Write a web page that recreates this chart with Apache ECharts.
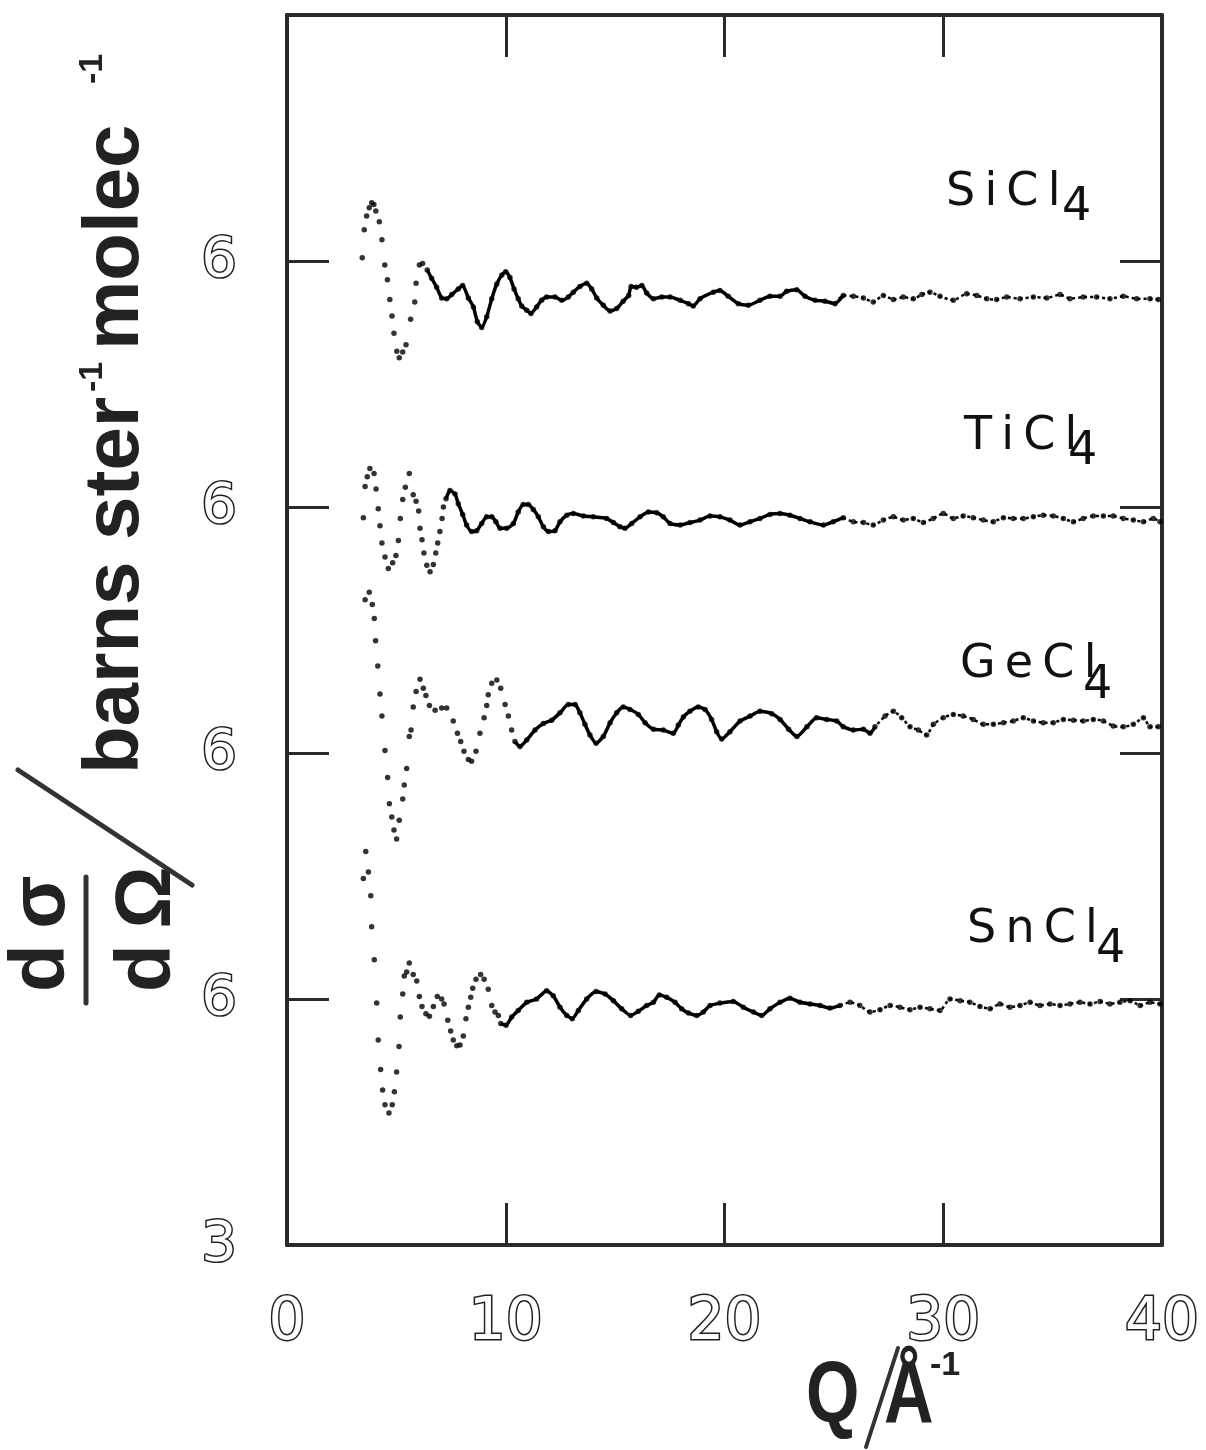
<!DOCTYPE html>
<html>
<head>
<meta charset="utf-8">
<script src="https://cdn.jsdelivr.net/npm/echarts@6/dist/echarts.min.js"></script>
<style>
html,body{margin:0;padding:0;background:#fff;}
#chart{width:1206px;height:1450px;}
</style>
</head>
<body>
<div id="chart"></div>
<script>
// Q (1/Angstrom), plotted value (each curve offset by 3 units; baselines 15, 12, 9, 6)
const xTicks = [0, 10, 20, 30, 40];
const yTickLabels = {3: '3', 6: '6', 9: '6', 12: '6', 15: '6', 18: ''};
const compounds = ['SiCl', 'TiCl', 'GeCl', 'SnCl'];

const SiCl4 = [
[3.44,15.04],[3.53,15.38],[3.64,15.55],[3.76,15.65],[3.87,15.71],[3.97,15.69],[4.06,15.61],[4.22,15.48],[4.34,15.26],[4.47,14.95],
[4.59,14.77],[4.70,14.53],[4.80,14.33],[4.89,14.12],[5.02,13.90],[5.13,13.82],[5.29,13.89],[5.44,13.98],[5.65,14.29],[5.84,14.50],
[5.90,14.73],[6.05,14.95],[6.20,14.97],[6.41,14.89],[6.61,14.79],[6.84,14.68],[7.07,14.55],[7.30,14.54],[7.53,14.59],[7.83,14.66],
[8.03,14.70],[8.29,14.55],[8.52,14.44],[8.70,14.26],[8.90,14.19],[9.13,14.32],[9.36,14.54],[9.59,14.72],[9.82,14.83],[10.00,14.87],
[10.19,14.80],[10.38,14.66],[10.57,14.54],[10.73,14.45],[10.96,14.40],[11.15,14.36],[11.41,14.44],[11.64,14.52],[11.87,14.56],[12.25,14.56],
[12.56,14.52],[12.86,14.56],[13.09,14.62],[13.39,14.69],[13.70,14.73],[13.93,14.66],[14.16,14.55],[14.46,14.46],[14.77,14.39],[15.07,14.42],
[15.37,14.51],[15.62,14.58],[15.73,14.69],[15.97,14.68],[16.22,14.70],[16.44,14.61],[16.75,14.54],[17.13,14.56],[17.51,14.56],[17.97,14.52],
[18.35,14.48],[18.57,14.45],[18.88,14.54],[19.49,14.62],[19.79,14.64],[20.17,14.57],[20.63,14.48],[21.09,14.46],[21.62,14.52],[22.08,14.57],
[22.54,14.57],[22.84,14.63],[23.30,14.65],[23.68,14.57],[24.14,14.52],[24.59,14.51],[25.05,14.48],[25.43,14.58],[25.89,14.57],[26.35,14.55],
[26.80,14.50],[27.26,14.58],[27.72,14.53],[28.17,14.56],[28.63,14.54],[29.02,14.59],[29.39,14.62],[29.85,14.57],[30.46,14.52],[31.07,14.60],
[31.53,14.58],[31.99,14.54],[32.44,14.53],[32.90,14.56],[33.51,14.54],[34.12,14.56],[34.73,14.55],[35.34,14.59],[35.79,14.54],[36.40,14.56],
[37.01,14.56],[37.62,14.54],[38.23,14.57],[38.84,14.54],[39.45,14.54],[39.83,14.53]
];

const TiCl4 = [
[3.49,11.87],[3.57,12.25],[3.67,12.37],[3.79,12.47],[3.98,12.41],[4.07,12.22],[4.17,11.98],[4.25,11.77],[4.34,11.56],[4.48,11.39],
[4.63,11.25],[4.83,11.32],[4.98,11.41],[5.09,11.59],[5.18,11.86],[5.29,12.09],[5.41,12.24],[5.59,12.41],[5.77,12.15],[5.90,12.07],
[6.02,11.95],[6.08,11.74],[6.17,11.60],[6.26,11.44],[6.39,11.29],[6.54,11.21],[6.69,11.30],[6.80,11.44],[6.89,11.56],[6.99,11.70],
[7.09,11.86],[7.15,12.00],[7.27,12.10],[7.45,12.20],[7.68,12.16],[7.83,12.04],[8.03,11.91],[8.21,11.78],[8.44,11.70],[8.67,11.71],
[8.90,11.80],[9.13,11.88],[9.36,11.88],[9.55,11.82],[9.74,11.74],[10.04,11.74],[10.35,11.80],[10.57,11.94],[10.80,12.03],[11.03,12.03],
[11.26,11.97],[11.49,11.88],[11.72,11.76],[11.95,11.70],[12.25,11.71],[12.48,11.82],[12.79,11.90],[13.09,11.92],[13.55,11.89],[14.00,11.88],
[14.61,11.86],[14.92,11.81],[15.22,11.76],[15.45,11.74],[15.76,11.80],[16.14,11.88],[16.52,11.94],[16.90,11.93],[17.20,11.88],[17.51,11.80],
[17.97,11.78],[18.42,11.81],[18.88,11.84],[19.34,11.89],[19.79,11.88],[20.25,11.84],[20.71,11.78],[21.17,11.82],[21.62,11.86],[22.08,11.91],
[22.54,11.92],[22.99,11.90],[23.45,11.86],[23.91,11.82],[24.52,11.78],[24.97,11.82],[25.43,11.87],[25.89,11.82],[26.35,11.81],[26.80,11.78],
[27.26,11.84],[27.72,11.88],[28.17,11.84],[28.63,11.86],[29.09,11.81],[29.54,11.86],[30.00,11.92],[30.46,11.86],[30.91,11.89],[31.37,11.87],
[31.83,11.84],[32.29,11.82],[32.75,11.87],[33.20,11.86],[33.66,11.86],[34.12,11.88],[34.57,11.90],[35.03,11.89],[35.49,11.86],[35.95,11.82],
[36.40,11.86],[36.86,11.89],[37.32,11.89],[37.77,11.89],[38.23,11.86],[38.69,11.84],[39.15,11.82],[39.60,11.86],[39.91,11.82]
];

const GeCl4 = [
[3.57,10.87],[3.76,10.96],[3.90,10.81],[3.99,10.64],[4.05,10.37],[4.15,10.06],[4.25,9.72],[4.34,9.45],[4.48,9.03],[4.60,8.70],
[4.68,8.38],[4.79,8.22],[4.89,8.06],[5.01,7.95],[5.13,8.18],[5.29,8.44],[5.36,8.61],[5.47,8.81],[5.59,9.20],[5.67,9.28],
[5.77,9.56],[5.90,9.75],[6.08,9.90],[6.23,9.79],[6.35,9.70],[6.51,9.58],[6.77,9.52],[7.07,9.55],[7.30,9.55],[7.60,9.39],
[7.79,9.24],[7.94,9.14],[8.09,9.02],[8.29,8.92],[8.44,8.90],[8.64,9.02],[8.82,9.24],[9.01,9.43],[9.13,9.58],[9.20,9.71],
[9.36,9.85],[9.59,9.89],[9.77,9.79],[9.97,9.59],[10.12,9.45],[10.27,9.28],[10.42,9.14],[10.65,9.08],[10.96,9.16],[11.34,9.28],
[11.72,9.36],[12.10,9.40],[12.48,9.49],[12.86,9.59],[13.17,9.59],[13.39,9.49],[13.62,9.35],[13.85,9.22],[14.13,9.12],[14.46,9.20],
[14.77,9.37],[15.07,9.49],[15.37,9.56],[15.68,9.53],[16.06,9.47],[16.37,9.37],[16.75,9.29],[17.20,9.28],[17.66,9.24],[17.89,9.34],
[18.12,9.44],[18.42,9.51],[18.80,9.56],[19.11,9.53],[19.41,9.41],[19.64,9.26],[19.87,9.17],[20.25,9.26],[20.71,9.39],[21.17,9.45],
[21.62,9.51],[22.16,9.48],[22.54,9.41],[22.93,9.29],[23.31,9.20],[23.77,9.32],[24.21,9.43],[24.67,9.41],[25.13,9.39],[25.43,9.32],
[25.89,9.28],[26.35,9.29],[26.65,9.24],[26.88,9.32],[27.34,9.45],[27.72,9.51],[28.10,9.43],[28.48,9.32],[28.86,9.28],[29.24,9.22],
[29.55,9.35],[30.00,9.43],[30.46,9.47],[30.91,9.45],[31.37,9.41],[31.83,9.35],[32.29,9.35],[32.75,9.37],[33.20,9.39],[33.66,9.43],
[34.12,9.39],[34.57,9.37],[35.03,9.37],[35.49,9.41],[35.95,9.40],[36.40,9.39],[36.86,9.41],[37.32,9.39],[37.77,9.33],[38.23,9.32],
[38.69,9.35],[39.15,9.43],[39.45,9.32],[39.83,9.32]
];

const SnCl4 = [
[3.49,7.47],[3.60,7.80],[3.72,7.55],[3.83,7.26],[3.87,6.88],[3.99,6.48],[4.10,5.95],[4.17,5.50],[4.28,5.14],[4.37,4.89],
[4.48,4.71],[4.66,4.61],[4.81,4.71],[4.91,4.87],[5.01,5.11],[5.12,5.42],[5.18,5.78],[5.29,6.06],[5.36,6.28],[5.47,6.33],
[5.59,6.44],[5.77,6.30],[5.93,6.22],[6.05,6.03],[6.17,5.91],[6.35,5.82],[6.51,5.79],[6.69,5.91],[6.87,6.03],[7.07,6.00],
[7.18,5.94],[7.35,5.74],[7.48,5.61],[7.60,5.50],[7.76,5.43],[7.91,5.44],[8.06,5.55],[8.18,5.76],[8.29,5.90],[8.40,6.02],
[8.49,6.13],[8.64,6.24],[8.85,6.30],[9.01,6.24],[9.20,6.12],[9.36,5.92],[9.51,5.84],[9.66,5.80],[9.77,5.70],[10.01,5.68],
[10.27,5.78],[10.57,5.86],[10.96,5.96],[11.41,6.00],[11.87,6.10],[12.17,6.04],[12.48,5.90],[12.79,5.80],[13.04,5.76],[13.32,5.86],
[13.70,6.00],[14.13,6.09],[14.54,6.06],[14.92,5.98],[15.30,5.88],[15.71,5.80],[16.06,5.85],[16.44,5.92],[16.75,5.96],[17.02,6.05],
[17.36,6.02],[17.74,5.96],[18.04,5.88],[18.35,5.83],[18.73,5.80],[19.03,5.84],[19.34,5.92],[19.79,5.95],[20.40,5.97],[20.86,5.90],
[21.32,5.84],[21.70,5.80],[22.08,5.88],[22.54,5.96],[22.99,6.01],[23.45,5.96],[23.91,5.94],[24.37,5.92],[24.82,5.89],[25.28,5.92],
[25.74,5.96],[26.19,5.92],[26.65,5.84],[27.11,5.87],[27.57,5.92],[28.02,5.90],[28.48,5.87],[28.94,5.90],[29.39,5.88],[29.85,5.86],
[30.31,6.00],[30.77,5.98],[31.22,5.96],[31.68,5.91],[32.14,5.88],[32.59,5.94],[33.05,5.90],[33.51,5.92],[33.97,5.96],[34.42,5.92],
[34.88,5.94],[35.34,5.92],[35.79,5.94],[36.25,5.96],[36.71,5.94],[37.17,5.97],[37.62,5.94],[38.08,5.96],[38.54,5.98],[39.00,5.92],
[39.45,5.96],[39.91,5.94]
];

// where each trace changes from sparse dots to a continuous trace, and back to a dotted tail
const traces = [
  {data: SiCl4, solidFrom: 6.3, tailFrom: 25.0},
  {data: TiCl4, solidFrom: 7.2, tailFrom: 25.0},
  {data: GeCl4, solidFrom: 10.4, tailFrom: 26.6},
  {data: SnCl4, solidFrom: 9.7, tailFrom: 25.0}
];

const ink = '#000000';
const series = [];
traces.forEach(t => {
  series.push({
    type: 'scatter', data: t.data, symbol: 'circle', symbolSize: 5.5,
    itemStyle: {color: ink}, silent: true, z: 3
  });
  series.push({
    type: 'line', data: t.data.filter(p => p[0] >= t.solidFrom && p[0] <= t.tailFrom + 0.5),
    showSymbol: false, smooth: 0.2, lineStyle: {color: ink, width: 3.5}, silent: true, z: 2
  });
  series.push({
    type: 'line', data: t.data.filter(p => p[0] >= t.tailFrom),
    showSymbol: false, smooth: 0.2, lineStyle: {color: ink, width: 2.5, type: [3, 3]}, silent: true, z: 2
  });
});

const frame = {show: true, onZero: false, lineStyle: {color: '#2a2a2a', width: 4}};
const tick = {show: true, inside: true, length: 42, lineStyle: {color: '#2a2a2a', width: 3}};
const hollow = {fontFamily: 'DejaVu Sans', color: '#ffffff', textBorderColor: '#222', textBorderWidth: 3};

const labelFont = 'normal 46px "DejaVu Sans"';
const titleFont = 'bold 78px "Liberation Sans", "DejaVu Sans", sans-serif';
const xTitleFont = 'bold 88px "Liberation Sans", "DejaVu Sans", sans-serif';
const supFont = 'bold 34px "Liberation Sans", "DejaVu Sans", sans-serif';
const names = [
  {x: 946, y: 193, sx: 1062, sy: 208},
  {x: 964, y: 437, sx: 1068, sy: 452},
  {x: 960, y: 665, sx: 1083, sy: 686},
  {x: 967, y: 930, sx: 1096, sy: 950}
];
const graphic = [];
function ptext(text, x, y, font, fill) {
  return {type: 'text', x: x, y: y, silent: true,
    style: {text: text, font: font, fill: fill, align: 'left', verticalAlign: 'middle', textAlign: 'left', textVerticalAlign: 'middle'}};
}
names.forEach((n, i) => {
  graphic.push(ptext(compounds[i].split('').join('\u2009'), n.x, n.y, labelFont, '#111'));
  graphic.push(ptext('4', n.sx, n.sy, labelFont, '#111'));
});
function rtext(text, x, y, font) {
  const e = ptext(text, x, y, font, '#222');
  e.rotation = Math.PI / 2;
  return e;
}
graphic.push(rtext('d\u2009σ', 42, 992, titleFont));
graphic.push(rtext('d\u2009Ω', 148, 992, titleFont));
graphic.push(rtext('barns ster', 116, 774, titleFont));
graphic.push(rtext('-1', 93, 392, supFont));
graphic.push(rtext('molec', 116, 350, titleFont));
graphic.push(rtext('-1', 93, 84, supFont));
graphic.push({type: 'line', silent: true, shape: {x1: 86, y1: 877, x2: 86, y2: 1003}, style: {stroke: '#333', lineWidth: 5, lineCap: 'round'}});
graphic.push({type: 'line', silent: true, shape: {x1: 18, y1: 770, x2: 192, y2: 885}, style: {stroke: '#333', lineWidth: 5, lineCap: 'round'}});
// x title Q / Å^-1 (condensed lettering)
const qText = ptext('Q', 806, 1398, xTitleFont, '#222'); qText.scaleX = 0.78;
const aText = ptext('Å', 884, 1398, xTitleFont, '#222'); aText.scaleX = 0.78;
graphic.push(qText);
graphic.push({type: 'line', silent: true, shape: {x1: 866, y1: 1447, x2: 898, y2: 1348}, style: {stroke: '#333', lineWidth: 4, lineCap: 'round'}});
graphic.push(aText);
graphic.push(ptext('-1', 930, 1366, supFont, '#222'));

const option = {
  animation: false,
  backgroundColor: '#ffffff',
  grid: {left: 287, right: 44, top: 15, bottom: 205, containLabel: false},
  xAxis: [
    {type: 'value', min: xTicks[0], max: xTicks[xTicks.length - 1], interval: 10, position: 'bottom',
     axisLine: frame, axisTick: tick, splitLine: {show: false},
     axisLabel: Object.assign({fontSize: 58, margin: 50}, hollow)},
    {type: 'value', min: xTicks[0], max: xTicks[xTicks.length - 1], interval: 10, position: 'top',
     axisLine: frame, axisTick: tick, splitLine: {show: false}, axisLabel: {show: false}}
  ],
  yAxis: [
    {type: 'value', min: 3, max: 18, interval: 3, position: 'left',
     axisLine: frame, axisTick: tick, splitLine: {show: false},
     axisLabel: Object.assign({fontSize: 56, margin: 50, formatter: v => yTickLabels[v]}, hollow)},
    {type: 'value', min: 3, max: 18, interval: 3, position: 'right',
     axisLine: frame, axisTick: tick, splitLine: {show: false}, axisLabel: {show: false}}
  ],
  series: series,
  graphic: graphic
};
const chart = echarts.init(document.getElementById('chart'), null, {renderer: 'canvas'});
chart.setOption(option);
</script>
</body>
</html>
